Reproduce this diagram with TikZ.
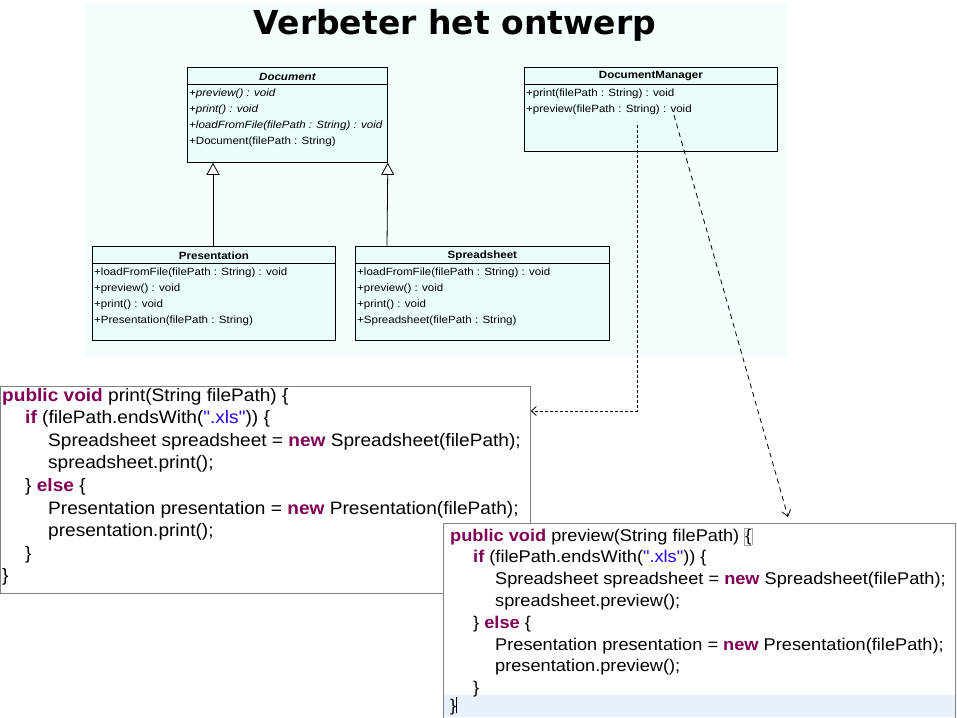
\documentclass[tikz,border=0pt]{standalone}
\usepackage{fontspec}
\setmainfont{Liberation Sans}
\newfontfamily\titlefont{DejaVu Sans}
\newfontfamily\umlfont[FakeStretch=1.1]{Liberation Sans}
\newfontfamily\codeAfont[FakeStretch=1.06]{Liberation Sans}
\newfontfamily\codeBfont[FakeStretch=1.07]{Liberation Sans}
\usetikzlibrary{arrows.meta,calc}
\definecolor{bgc}{HTML}{F4FEFF}
\definecolor{boxc}{HTML}{EAFDFD}
\definecolor{kw}{HTML}{7F0055}
\definecolor{strc}{HTML}{2A00FF}
\definecolor{hl}{HTML}{E8F2FE}
\definecolor{codeborder}{HTML}{808080}
\newcommand{\kwd}[1]{\textcolor{kw}{\textbf{#1}}}
\newcommand{\strg}[1]{\textcolor{strc}{#1}}
\begin{document}
\begin{tikzpicture}[x=1pt,y=-1pt,
  umlbox/.style={draw=black, line width=0.8pt, fill=boxc, anchor=north west, inner sep=0pt},
  umlhead/.style={font=\umlfont\fontsize{10.5}{12}\selectfont\bfseries, anchor=center, inner sep=0pt},
  umlitem/.style={font=\umlfont\fontsize{10.5}{12}\selectfont, anchor=west, inner sep=0pt},
  umlital/.style={font=\umlfont\fontsize{10.5}{12}\selectfont\itshape, anchor=west, inner sep=0pt},
  codebox/.style={draw=codeborder, line width=0.8pt, fill=white, anchor=north west, inner sep=0pt},
  codeA/.style={font=\codeAfont\fontsize{18}{21}\selectfont, anchor=base west, inner sep=0pt},
  codeB/.style={font=\codeBfont\fontsize{17}{20}\selectfont, anchor=base west, inner sep=0pt},
  inh/.style={draw=black, line width=0.8pt, -{Triangle[open, length=12pt, width=13pt, fill=white]}},
  depA/.style={draw=black, line width=0.8pt, dash pattern=on 3pt off 2pt, -{Straight Barb[length=5pt, width=9pt]}},
  depB/.style={draw=black, line width=0.8pt, dash pattern=on 5pt off 4pt, -{Straight Barb[length=6pt, width=9pt]}}
]
\useasboundingbox (0,0) rectangle (957,717);
\fill[white] (0,0) rectangle (957,717);
% background panel
\fill[bgc] (85,3) rectangle (787,357);
\node[font=\titlefont\fontsize{33}{38}\selectfont\bfseries, inner sep=0pt] (title) at (455,25) {Verbeter het ontwerp};

% Document
\node[umlbox, minimum width=200pt, minimum height=95pt] (doc) at (187,67) {};
\draw[line width=0.8pt] ($(doc.north west)+(0,17)$) -- ($(doc.north east)+(0,17)$);
\node[umlhead, font=\umlfont\fontsize{10.5}{12}\selectfont\bfseries\itshape] (docT) at ($(doc.north)+(0,9.5)$) {Document};
\node[umlital] (doc1) at ($(doc.north west)+(2,27)$) {+preview() : void};
\node[umlital] (doc2) at ($(doc.north west)+(2,43)$) {+print() : void};
\node[umlital] (doc3) at ($(doc.north west)+(2,59)$) {+loadFromFile(filePath : String) : void};
\node[umlitem] (doc4) at ($(doc.north west)+(2,75)$) {+Document(filePath : String)};

% DocumentManager
\node[umlbox, minimum width=253pt, minimum height=84pt] (dm) at (524,67) {};
\draw[line width=0.8pt] ($(dm.north west)+(0,17)$) -- ($(dm.north east)+(0,17)$);
\node[umlhead] (dmT) at ($(dm.north)+(0,9.5)$) {DocumentManager};
\node[umlitem] (dm1) at ($(dm.north west)+(2,27)$) {+print(filePath : String) : void};
\node[umlitem] (dm2) at ($(dm.north west)+(2,43)$) {+preview(filePath : String) : void};

% Presentation
\node[umlbox, minimum width=243pt, minimum height=94pt] (pres) at (92,246) {};
\draw[line width=0.8pt] ($(pres.north west)+(0,17)$) -- ($(pres.north east)+(0,17)$);
\node[umlhead] (presT) at ($(pres.north)+(0,9.5)$) {Presentation};
\node[umlitem] (pres1) at ($(pres.north west)+(2,27)$) {+loadFromFile(filePath : String) : void};
\node[umlitem] (pres2) at ($(pres.north west)+(2,43)$) {+preview() : void};
\node[umlitem] (pres3) at ($(pres.north west)+(2,59)$) {+print() : void};
\node[umlitem] (pres4) at ($(pres.north west)+(2,75)$) {+Presentation(filePath : String)};

% Spreadsheet
\node[umlbox, minimum width=254pt, minimum height=94pt] (ss) at (355,246) {};
\draw[line width=0.8pt] ($(ss.north west)+(0,17)$) -- ($(ss.north east)+(0,17)$);
\node[umlhead] (ssT) at ($(ss.north)+(0,9.5)$) {Spreadsheet};
\node[umlitem] (ss1) at ($(ss.north west)+(2,27)$) {+loadFromFile(filePath : String) : void};
\node[umlitem] (ss2) at ($(ss.north west)+(2,43)$) {+preview() : void};
\node[umlitem] (ss3) at ($(ss.north west)+(2,59)$) {+print() : void};
\node[umlitem] (ss4) at ($(ss.north west)+(2,75)$) {+Spreadsheet(filePath : String)};

% inheritance
\draw[inh] ($(pres.north west)+(121,0)$) -- ($(doc.south west)+(26,0)$);
\draw[inh] ($(ss.north west)+(32,0)$) -- (doc.south east);

% code box 1
\node[codebox, minimum width=530pt, minimum height=207pt] (code1) at (0,386) {};
\node[codeA] (a1) at (2,401) {\kwd{public void} print(String filePath) \{};
\node[codeA] (a2) at (25,423.6) {\kwd{if} (filePath.endsWith(\strg{".xls"})) \{};
\node[codeA] (a3) at (48,446.2) {Spreadsheet spreadsheet = \kwd{new} Spreadsheet(filePath);};
\node[codeA] (a4) at (48,468.8) {spreadsheet.print();};
\node[codeA] (a5) at (25,491.4) {\} \kwd{else} \{};
\node[codeA] (a6) at (48,514) {Presentation presentation = \kwd{new} Presentation(filePath);};
\node[codeA] (a7) at (48,536.6) {presentation.print();};
\node[codeA] (a8) at (25,559.2) {\}};
\node[codeA] (a9) at (2,581.8) {\}};

% code box 2
\node[codebox, minimum width=512pt, minimum height=200pt] (code2) at (443,523) {};
\fill[hl] (444,695) rectangle (955,717);
\node[codeB] (b1) at (450,541) {\kwd{public void} preview(String filePath) {\setlength\fboxsep{0.3pt}\setlength\fboxrule{0.6pt}\fcolorbox{gray!70}{white}{\{}}};
\node[codeB] (b2) at (473,562.8) {\kwd{if} (filePath.endsWith(\strg{".xls"})) \{};
\node[codeB] (b3) at (495,584.6) {Spreadsheet spreadsheet = \kwd{new} Spreadsheet(filePath);};
\node[codeB] (b4) at (495,606.4) {spreadsheet.preview();};
\node[codeB] (b5) at (473,628.2) {\} \kwd{else} \{};
\node[codeB] (b6) at (495,650) {Presentation presentation = \kwd{new} Presentation(filePath);};
\node[codeB] (b7) at (495,671.8) {presentation.preview();};
\node[codeB] (b8) at (473,693.6) {\}};
\node[codeB] (b9) at (450,711) {\}\rule[-2pt]{0.9pt}{16pt}};

% dependencies
\coordinate (s1) at (637,125);
\coordinate (k1) at (637,411);
\draw[depA] (s1) -- (k1) -- (code1.east |- k1);
\coordinate (s2) at (674,115);
\coordinate (e2) at (788,517);
\draw[depB] (s2) -- (e2);
\end{tikzpicture}
\end{document}
